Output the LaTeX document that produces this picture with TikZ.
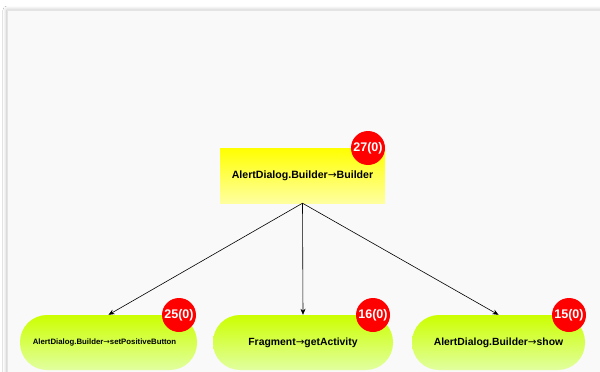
\documentclass[tikz,border=0pt]{standalone}
\usepackage{fontspec}
\setmainfont{Liberation Sans}
\newfontfamily\arrfont{DejaVu Sans}
\newcommand\myarr{{\arrfont\mdseries →}}
\usetikzlibrary{arrows.meta,shadows.blur}
\definecolor{panelbg}{HTML}{F9F9F9}
\definecolor{badgered}{HTML}{FF0000}
\tikzset{
  rootbox/.style={rectangle, minimum width=165pt, minimum height=55pt, inner sep=0pt,
    top color=yellow, bottom color={rgb,255:red,255;green,255;blue,160}, font=\bfseries\fontsize{10.6}{12}\selectfont},
  pill/.style={rectangle, rounded corners=27pt, minimum height=55pt, inner sep=0pt,
    top color={rgb,255:red,204;green,255;blue,0}, bottom color={rgb,255:red,225;green,255;blue,160}, font=\bfseries\fontsize{10.4}{12}\selectfont},
  badge/.style={circle, fill=badgered, minimum size=34pt, inner sep=0pt, text=white, font=\bfseries\fontsize{12.5}{14}\selectfont},
  conn/.style={-{Stealth[length=6pt,width=5pt]}, line width=0.6pt, black}
}
\begin{document}
\begin{tikzpicture}[x=1pt,y=-1pt]
\useasboundingbox (0,0) rectangle (600,372);
\fill[white] (0,0) rectangle (600,372);
\fill[panelbg, draw={rgb,255:red,228;green,228;blue,228}, blur shadow={shadow blur steps=8, shadow xshift=0pt, shadow yshift=0pt, shadow blur radius=4pt, shadow opacity=25}] (7,10) rectangle (610,380);
\node[rootbox] (root) at (302.5,175.5) {AlertDialog.Builder\myarr Builder};
\node[badge] (b0) at (368,148) {27(0)};
\node[pill, minimum width=177pt, font=\bfseries\fontsize{7.8}{9}\selectfont] (n1) at (108.5,342.5) {\hspace*{-8pt}AlertDialog.Builder\myarr setPositiveButton};
\node[badge] (b1) at (179,315) {25(0)};
\node[pill, minimum width=180pt] (n2) at (303,342.5) {Fragment\myarr getActivity};
\node[badge] (b2) at (373,315) {16(0)};
\node[pill, minimum width=173pt] (n3) at (498.5,342.5) {AlertDialog.Builder\myarr show};
\node[badge] (b3) at (569,315) {15(0)};
\draw[conn] (root.south) -- (n1.north);
\draw[conn] (root.south) -- (n2.north);
\draw[conn] (root.south) -- (n3.north);
\end{tikzpicture}
\end{document}
